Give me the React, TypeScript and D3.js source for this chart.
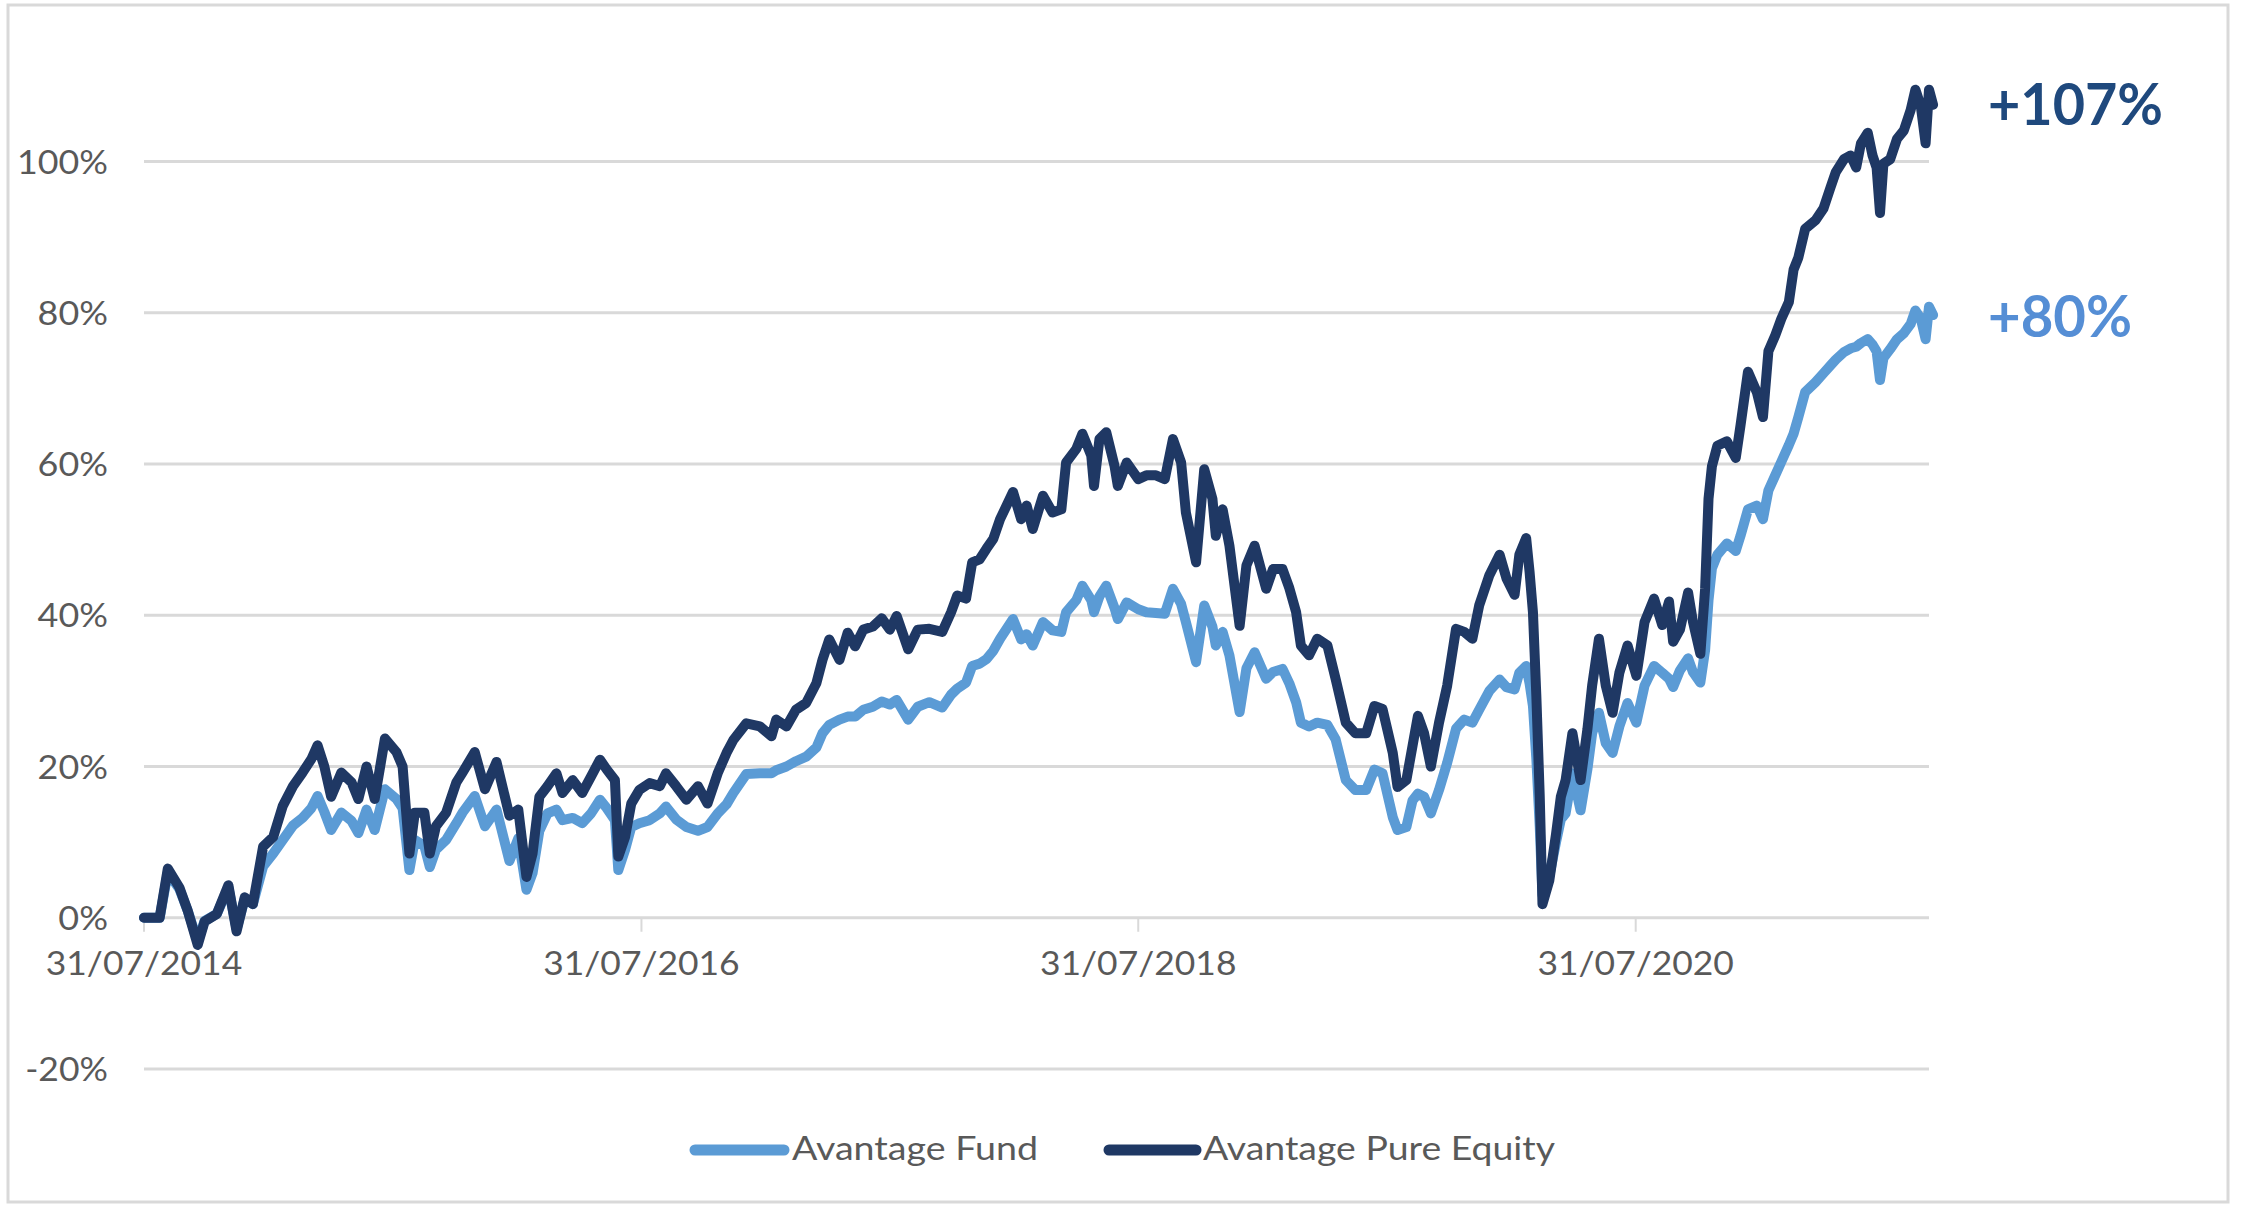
import React from "react";
import * as d3 from "d3";

// ---- data ----
const dates = [
  "2014-07-31","2014-08-23","2014-09-04","2014-09-21","2014-10-03","2014-10-18","2014-10-28","2014-11-15","2014-12-02","2014-12-14",
  "2014-12-26","2015-01-07","2015-01-22","2015-02-06","2015-02-20","2015-03-07","2015-03-21","2015-04-03","2015-04-12","2015-04-22",
  "2015-05-02","2015-05-17","2015-06-01","2015-06-11","2015-06-23","2015-07-05","2015-07-20","2015-08-06","2015-08-15","2015-08-25",
  "2015-09-02","2015-09-16","2015-09-24","2015-10-03","2015-10-18","2015-11-02","2015-11-11","2015-11-29","2015-12-14","2015-12-31",
  "2016-01-19","2016-02-01","2016-02-13","2016-02-22","2016-03-03","2016-03-15","2016-03-28","2016-04-06","2016-04-21","2016-05-05",
  "2016-05-18","2016-05-31","2016-06-10","2016-06-22","2016-06-27","2016-07-07","2016-07-16","2016-07-28","2016-08-12","2016-08-27",
  "2016-09-05","2016-09-20","2016-10-05","2016-10-22","2016-11-05","2016-11-20","2016-12-03","2016-12-13","2017-01-01","2017-01-21",
  "2017-02-07","2017-02-14","2017-03-01","2017-03-15","2017-03-30","2017-04-14","2017-04-23","2017-05-03","2017-05-18","2017-05-30",
  "2017-06-10","2017-06-22","2017-07-06","2017-07-19","2017-07-31","2017-08-10","2017-08-27","2017-09-10","2017-09-27","2017-10-16",
  "2017-10-29","2017-11-07","2017-11-20","2017-11-29","2017-12-10","2017-12-20","2017-12-30","2018-01-09","2018-01-28","2018-02-09",
  "2018-02-17","2018-02-26","2018-03-13","2018-03-27","2018-04-09","2018-04-16","2018-05-01","2018-05-10","2018-05-23","2018-05-27",
  "2018-06-04","2018-06-14","2018-06-26","2018-07-01","2018-07-14","2018-07-31","2018-08-12","2018-08-26","2018-09-08","2018-09-20",
  "2018-10-02","2018-10-09","2018-10-24","2018-11-05","2018-11-17","2018-11-22","2018-12-02","2018-12-12","2018-12-27","2019-01-06",
  "2019-01-18","2019-02-04","2019-02-14","2019-02-28","2019-03-10","2019-03-20","2019-03-27","2019-04-08","2019-04-20","2019-05-05",
  "2019-05-17","2019-06-01","2019-06-15","2019-07-01","2019-07-13","2019-07-25","2019-08-09","2019-08-16","2019-08-29","2019-09-07",
  "2019-09-15","2019-09-24","2019-10-04","2019-10-16","2019-10-28","2019-11-10","2019-11-22","2019-12-04","2019-12-14","2019-12-29",
  "2020-01-13","2020-01-23","2020-02-04","2020-02-11","2020-02-21","2020-02-26","2020-03-02","2020-03-07","2020-03-12","2020-03-16",
  "2020-03-26","2020-04-05","2020-04-12","2020-04-19","2020-04-29","2020-05-11","2020-05-21","2020-05-28","2020-06-07","2020-06-17",
  "2020-06-27","2020-07-07","2020-07-19","2020-08-01","2020-08-13","2020-08-27","2020-09-08","2020-09-18","2020-09-24","2020-10-04",
  "2020-10-16","2020-10-23","2020-11-03","2020-11-10","2020-11-15","2020-11-20","2020-11-28","2020-12-12","2020-12-25","2021-01-01",
  "2021-01-12","2021-01-25","2021-02-03","2021-02-11","2021-02-21","2021-03-02","2021-03-13","2021-03-20","2021-03-27","2021-04-06",
  "2021-04-21","2021-05-03","2021-05-13","2021-05-21","2021-06-02","2021-06-12","2021-06-20","2021-06-27","2021-07-07","2021-07-14",
  "2021-07-20","2021-07-25","2021-07-30","2021-08-09","2021-08-19","2021-08-29","2021-09-08","2021-09-15","2021-09-23","2021-09-30",
  "2021-10-05","2021-10-11",
];

const pureEquity = [
  0, 0, 6.5, 4, 1, -3.6, -0.5, 0.5, 4.3, -1.8,
  2.7, 1.8, 9.4, 10.7, 14.8, 17.4, 19.2, 21, 22.8, 20,
  16, 19.2, 17.9, 15.7, 20, 15.7, 23.7, 21.9, 20, 8.5,
  13.9, 13.9, 8.5, 12.1, 13.9, 17.9, 19.2, 21.9, 17, 20.6,
  13.5, 14.3, 5.4, 8.5, 16, 17.4, 19.1, 16.5, 18.2, 16.5,
  18.7, 20.9, 19.6, 18.2, 8.1, 10.7, 15.1, 16.9, 17.8, 17.4,
  19.1, 17.4, 15.6, 17.4, 15.1, 19.1, 21.8, 23.5, 25.7, 25.3,
  24, 26.2, 25.3, 27.5, 28.4, 31, 34.1, 36.8, 34.1, 37.7,
  35.9, 38.1, 38.5, 39.6, 38.1, 39.9, 35.5, 38.1, 38.2, 37.8,
  40.4, 42.6, 42.2, 47, 47.4, 48.8, 50.1, 52.7, 56.3, 52.7,
  54.5, 51.4, 55.8, 53.6, 54, 60.2, 62, 64, 61.1, 57.1,
  63.3, 64.2, 59.8, 57.1, 60.2, 58, 58.5, 58.5, 58, 63.3,
  60.2, 53.6, 47, 59.3, 55.4, 50.5, 54, 49.2, 38.6, 46.6,
  49.2, 43.5, 46.1, 46.1, 43.6, 40.4, 36, 34.7, 36.9, 36,
  31.6, 25.8, 24.4, 24.4, 28, 27.6, 21.8, 17.3, 18.2, 22.7,
  26.7, 24.4, 20, 25.8, 30.7, 38.2, 37.8, 36.9, 41.3, 45.3,
  48, 44.9, 42.7, 48, 50.2, 45.8, 40.4, 29.3, 16, 1.8,
  4.9, 11.1, 16, 18.2, 24.4, 18.2, 24.9, 30.7, 36.9, 30.7,
  27.1, 32.4, 36, 32, 39.1, 42.2, 38.7, 41.8, 36.5, 38.1,
  43, 39.2, 34.9, 43.5, 55.4, 59.7, 62.4, 63, 60.8, 65.1,
  72.2, 69.5, 66.2, 74.9, 77, 79.2, 81.4, 85.7, 87.3, 91.1,
  92.2, 93.8, 96.5, 98.6, 100.3, 100.8, 99.2, 102.4, 103.8, 100.8,
  99.2, 93.2, 99.7, 100.3, 103, 104.1, 106.8, 109.5, 107.3, 102.4,
  109.5, 107.5,
];

const fund = [
  0, 0, 6, 3.8, 1, -3.2, -0.4, 0.5, 4, -1.5,
  2.5, 1.8, 6.8, 8.5, 10.3, 12.2, 13.2, 14.5, 16.1, 14,
  11.6, 13.9, 12.8, 11.2, 14.3, 11.6, 17, 15.7, 14.5, 6.3,
  10.3, 9.5, 6.7, 9, 10.3, 12.5, 13.9, 16.1, 12.1, 14.3,
  7.5, 10.5, 3.7, 5.9, 11.5, 13.8, 14.3, 12.9, 13.2, 12.5,
  13.8, 15.6, 14.5, 12.9, 6.3, 9, 12, 12.5, 12.9, 13.8,
  14.7, 13, 12, 11.5, 12, 13.8, 15, 16.5, 19, 19.1,
  19.1, 19.5, 20, 20.7, 21.3, 22.5, 24.4, 25.5, 26.2, 26.6,
  26.6, 27.5, 27.9, 28.6, 28.2, 28.8, 26.2, 27.9, 28.5, 27.8,
  29.5, 30.3, 31.1, 33.3, 33.6, 34.2, 35.3, 36.9, 39.5, 36.8,
  37.5, 36, 39.1, 38, 37.8, 40.4, 42, 43.9, 42, 40.4,
  42.5, 43.9, 41, 39.5, 41.7, 40.8, 40.4, 40.3, 40.2, 43.5,
  41.5, 39.1, 33.8, 41.3, 38.5, 36, 37.8, 34.7, 27.2, 33,
  35.1, 31.6, 32.5, 32.9, 31, 28.5, 25.8, 25.3, 25.8, 25.5,
  23.6, 18.2, 16.9, 16.9, 19.6, 19.1, 13.3, 11.6, 12, 15.5,
  16.4, 16, 13.8, 16.9, 20.5, 25, 26.2, 25.8, 27.5, 30,
  31.5, 30.5, 30.2, 32.4, 33.3, 31, 28, 21, 12, 3,
  5.5, 10, 13, 13.8, 19.1, 14.2, 19.6, 24.4, 27.1, 23.1,
  21.8, 25.3, 28.4, 25.8, 30.7, 33.3, 32.4, 31.6, 30.5, 32.7,
  34.3, 32.5, 31.1, 35.4, 42, 46.2, 48, 49.5, 48.5, 50.5,
  54, 54.5, 52.7, 56.5, 58.5, 60.3, 62.5, 64, 66.2, 69.5,
  70.8, 72, 73, 73.8, 74.8, 75.3, 75.5, 76, 76.5, 75.8,
  74.9, 71.1, 74, 75.2, 76.5, 77.3, 78.5, 80.3, 79.2, 76.5,
  80.8, 79.7,
];

const yTicks = [-20, 0, 20, 40, 60, 80, 100];
const xTicks = ["2014-07-31", "2016-07-31", "2018-07-31", "2020-07-31"];
const seriesNames = ["Avantage Fund", "Avantage Pure Equity"];
const endLabels = ["+80%", "+107%"];

// approximate advance widths (em) of the original's font, to size labels
const charW: Record<string, number> = {
  "0": 0.507, "1": 0.507, "2": 0.507, "3": 0.507, "4": 0.507, "5": 0.507, "6": 0.507,
  "7": 0.507, "8": 0.507, "9": 0.507, "%": 0.715, "-": 0.306, "/": 0.386,
};
const textW = (s: string) =>
  s.split("").reduce((a, c) => a + (charW[c] ?? 0.5), 0) * 35.7 * 1.14;

export default function App() {
  const W = 2244;
  const H = 1205;
  const parse = d3.timeParse("%Y-%m-%d");
  const x = d3
    .scaleTime()
    .domain([parse("2014-07-31") as Date, parse("2020-07-31") as Date])
    .range([144, 1635.7]);
  const y = d3.scaleLinear().domain([-20, 100]).range([1069, 161.5]);
  const fmt = d3.timeFormat("%d/%m/%Y");
  const parsed = dates.map((d) => parse(d) as Date);

  const line = d3
    .line<number>()
    .x((_, i) => x(parsed[i]))
    .y((v) => y(v))
    .curve(d3.curveLinear);

  const plotLeft = 144;
  const plotRight = 1929;
  const grey = "#595959";
  const gridC = "#d9d9d9";
  const fundC = "#5b9bd5";
  const peC = "#1f3864";
  const axisFont = "Lato, 'Open Sans', sans-serif";

  return (
    <svg
      width={W}
      height={H}
      viewBox={`0 0 ${W} ${H}`}
      style={{ position: "absolute", left: 0, top: 0, background: "#fff" }}
    >
      <rect x={0} y={0} width={W} height={H} fill="#fff" />
      <rect x={8} y={5} width={2220} height={1197} fill="none" stroke={gridC} strokeWidth={3} />

      {/* gridlines */}
      {yTicks.map((t) => (
        <line key={t} x1={plotLeft} x2={plotRight} y1={y(t)} y2={y(t)} stroke={gridC} strokeWidth={3} />
      ))}
      {/* tick marks on category axis */}
      {xTicks.map((t) => {
        const xx = x(parse(t) as Date);
        return <line key={t} x1={xx} x2={xx} y1={y(0)} y2={y(0) + 14} stroke={gridC} strokeWidth={2} />;
      })}

      {/* y labels */}
      {yTicks.map((t) => {
        const s = `${t}%`;
        const w = textW(s);
        return (
          <text
            key={t}
            x={108 - w}
            y={y(t) + 12}
            fontFamily={axisFont}
            fontSize={32}
            fill={grey}
            textLength={w}
            lengthAdjust="spacingAndGlyphs"
          >
            {s}
          </text>
        );
      })}

      {/* x labels */}
      {xTicks.map((t) => {
        const d = parse(t) as Date;
        const s = fmt(d);
        const w = textW(s);
        return (
          <text
            key={t}
            x={x(d) - w / 2}
            y={975}
            fontFamily={axisFont}
            fontSize={32}
            fill={grey}
            textLength={w}
            lengthAdjust="spacingAndGlyphs"
          >
            {s}
          </text>
        );
      })}

      {/* series */}
      <path d={line(fund) || ""} fill="none" stroke={fundC} strokeWidth={10} strokeLinejoin="round" strokeLinecap="round" />
      <path d={line(pureEquity) || ""} fill="none" stroke={peC} strokeWidth={10} strokeLinejoin="round" strokeLinecap="round" />

      {/* end annotations */}
      <text x={1988} y={125} fontFamily={axisFont} fontWeight={700} fontSize={58} fill="#1f497d" textLength={175} lengthAdjust="spacingAndGlyphs">
        {endLabels[1]}
      </text>
      <text x={1988} y={337} fontFamily={axisFont} fontWeight={700} fontSize={58} fill="#558ed5" textLength={144} lengthAdjust="spacingAndGlyphs">
        {endLabels[0]}
      </text>

      {/* legend */}
      <line x1={695} x2={784} y1={1150} y2={1150} stroke={fundC} strokeWidth={11} strokeLinecap="round" />
      <text x={792} y={1160} fontFamily={axisFont} fontSize={32} fill={grey} textLength={246} lengthAdjust="spacingAndGlyphs">
        {seriesNames[0]}
      </text>
      <line x1={1109} x2={1196} y1={1150} y2={1150} stroke={peC} strokeWidth={11} strokeLinecap="round" />
      <text x={1203} y={1160} fontFamily={axisFont} fontSize={32} fill={grey} textLength={352} lengthAdjust="spacingAndGlyphs">
        {seriesNames[1]}
      </text>
    </svg>
  );
}
